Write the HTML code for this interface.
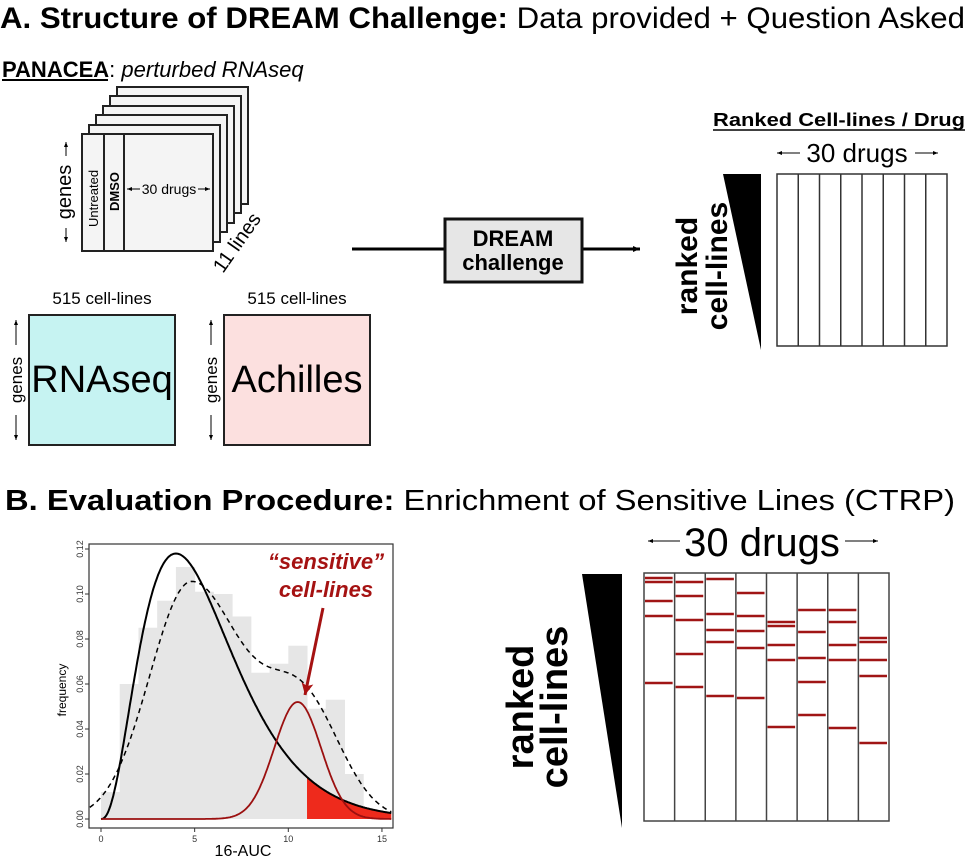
<!DOCTYPE html>
<html><head><meta charset="utf-8"><style>
html,body{margin:0;padding:0;background:#fff}
svg{display:block;font-family:"Liberation Sans",Arial,sans-serif}
</style></head><body>
<svg id="s" width="970" height="861" viewBox="0 0 970 861" xmlns="http://www.w3.org/2000/svg">
<defs>
<marker id="ah" markerWidth="8" markerHeight="8" refX="7" refY="4" orient="auto" markerUnits="userSpaceOnUse"><path d="M0,1 L7,4 L0,7 z" fill="#000"/></marker>
<marker id="as" markerWidth="6" markerHeight="6" refX="5" refY="3" orient="auto" markerUnits="userSpaceOnUse"><path d="M0,1 L5,3 L0,5 z" fill="#000"/></marker>
<marker id="ar" markerWidth="14" markerHeight="14" refX="12" refY="7" orient="auto" markerUnits="userSpaceOnUse"><path d="M0,1 L12,7 L0,13 L3,7 z" fill="#a11"/></marker>
</defs>
<text x="0" y="28" font-size="30" font-weight="bold" textLength="965" lengthAdjust="spacingAndGlyphs">A.  Structure of DREAM Challenge:<tspan font-weight="normal"> Data provided + Question Asked</tspan></text>
<text x="2" y="77" font-size="22"><tspan font-weight="bold">PANACEA</tspan>: <tspan font-style="italic">perturbed RNAseq</tspan></text>
<line x1="2" y1="80" x2="108" y2="80" stroke="#000" stroke-width="2"/>

<g stroke="#222" stroke-width="2" fill="#f4f4f4">
<rect x="117" y="87" width="131" height="117"/>
<rect x="110" y="96" width="131" height="117"/>
<rect x="103" y="106" width="131" height="117"/>
<rect x="96" y="115" width="131" height="117"/>
<rect x="89" y="125" width="131" height="117"/>
<rect x="82" y="134" width="131" height="117"/>
<line x1="104" y1="134" x2="104" y2="251"/>
<line x1="124" y1="134" x2="124" y2="251"/>
</g>
<text transform="translate(98,227) rotate(-90)" font-size="13">Untreated</text>
<text transform="translate(119,211) rotate(-90)" font-size="13" font-weight="bold">DMSO</text>
<text x="169" y="194" font-size="14" text-anchor="middle">30 drugs</text>
<line x1="140" y1="189" x2="127" y2="189" stroke="#000" marker-end="url(#as)"/>
<line x1="198" y1="189" x2="210" y2="189" stroke="#000" marker-end="url(#as)"/>
<text transform="translate(71,192) rotate(-90)" font-size="20" text-anchor="middle">genes</text>
<line x1="66" y1="156" x2="66" y2="142" stroke="#000" marker-end="url(#as)"/>
<line x1="66" y1="228" x2="66" y2="242" stroke="#000" marker-end="url(#as)"/>
<text transform="translate(223,274) rotate(-55)" font-size="20">11 lines</text>

<text x="102" y="304" font-size="17" text-anchor="middle">515 cell-lines</text>
<text x="297" y="304" font-size="17" text-anchor="middle">515 cell-lines</text>
<rect x="29" y="315" width="146" height="130" fill="#c6f3f2" stroke="#222" stroke-width="2"/>
<rect x="224" y="315" width="146" height="130" fill="#fce0df" stroke="#222" stroke-width="2"/>
<text x="102" y="392" font-size="38" text-anchor="middle">RNAseq</text>
<text x="297" y="392" font-size="38" text-anchor="middle">Achilles</text>
<text transform="translate(22,380) rotate(-90)" font-size="17" text-anchor="middle">genes</text>
<text transform="translate(217,380) rotate(-90)" font-size="17" text-anchor="middle">genes</text>
<g stroke="#000">
<line x1="16" y1="345" x2="16" y2="320" marker-end="url(#as)"/>
<line x1="16" y1="415" x2="16" y2="440" marker-end="url(#as)"/>
<line x1="211" y1="345" x2="211" y2="320" marker-end="url(#as)"/>
<line x1="211" y1="415" x2="211" y2="440" marker-end="url(#as)"/>
</g>

<line x1="352" y1="249" x2="445" y2="249" stroke="#000" stroke-width="3"/>
<line x1="582" y1="249" x2="640" y2="249" stroke="#000" stroke-width="3" marker-end="url(#ah)"/>
<rect x="445" y="219" width="137" height="63" fill="#e6e6e6" stroke="#111" stroke-width="3"/>
<text x="513" y="246" font-size="22" font-weight="bold" text-anchor="middle">DREAM</text>
<text x="513" y="270" font-size="22" font-weight="bold" text-anchor="middle">challenge</text>

<text x="713" y="126" font-size="18" font-weight="bold" textLength="252" lengthAdjust="spacingAndGlyphs">Ranked Cell-lines / Drug</text>
<line x1="713" y1="130" x2="965" y2="130" stroke="#000" stroke-width="1.5"/>
<text x="857" y="162" font-size="26" text-anchor="middle">30 drugs</text>
<line x1="800" y1="153" x2="777" y2="153" stroke="#000" marker-end="url(#as)"/>
<line x1="915" y1="153" x2="938" y2="153" stroke="#000" marker-end="url(#as)"/>
<polygon points="723,174 761,174 761,350" fill="#000"/>
<text transform="translate(697,266) rotate(-90)" font-size="30" font-weight="bold" text-anchor="middle">ranked</text>
<text transform="translate(727,266) rotate(-90)" font-size="30" font-weight="bold" text-anchor="middle">cell-lines</text>
<g id="gridA" stroke="#333" stroke-width="1.5" fill="#fff"></g>

<text x="5" y="510" font-size="29" font-weight="bold" textLength="950" lengthAdjust="spacingAndGlyphs">B.  Evaluation Procedure:<tspan font-weight="normal"> Enrichment of Sensitive Lines (CTRP)</tspan></text>

<g id="hist" fill="#e6e6e6"></g>
<path id="fill" fill="#ee2a1c"/>
<path id="blk" fill="none" stroke="#000" stroke-width="2"/>
<path id="dsh" fill="none" stroke="#000" stroke-width="1.5" stroke-dasharray="5,4"/>
<path id="red" fill="none" stroke="#9b1010" stroke-width="1.8"/>
<rect x="89" y="544" width="304" height="284" fill="none" stroke="#333" stroke-width="1.2"/>
<g id="ticks" stroke="#333" stroke-width="1" font-size="9" fill="#333"></g>
<text transform="translate(66,690) rotate(-90)" font-size="12" text-anchor="middle">frequency</text>
<text x="243" y="856" font-size="16" text-anchor="middle">16-AUC</text>
<text x="326" y="569" font-size="22" font-weight="bold" font-style="italic" fill="#a51212" text-anchor="middle">“sensitive”</text>
<text x="326" y="597" font-size="22" font-weight="bold" font-style="italic" fill="#a51212" text-anchor="middle">cell-lines</text>
<line x1="323" y1="608" x2="305" y2="695" stroke="#a51212" stroke-width="3" marker-end="url(#ar)"/>

<text x="762" y="556" font-size="40" text-anchor="middle">30 drugs</text>
<line x1="680" y1="541" x2="648" y2="541" stroke="#000" marker-end="url(#as)"/>
<line x1="845" y1="541" x2="878" y2="541" stroke="#000" marker-end="url(#as)"/>
<polygon points="582,574 622,574 622,828" fill="#000"/>
<text transform="translate(533,707) rotate(-90)" font-size="38" font-weight="bold" text-anchor="middle">ranked</text>
<text transform="translate(567,707) rotate(-90)" font-size="38" font-weight="bold" text-anchor="middle">cell-lines</text>
<g id="gridB" stroke="#444" stroke-width="1.5" fill="#fff"></g>
<g id="redB" stroke="#a01515" stroke-width="2.5"></g>
</svg>
<script>
var NS="http://www.w3.org/2000/svg";
function el(p,t,a){var e=document.createElementNS(NS,t);for(var k in a)e.setAttribute(k,a[k]);p.appendChild(e);return e;}
var gA=document.getElementById('gridA');
el(gA,'rect',{x:777,y:174,width:170,height:172});
for(var i=1;i<8;i++){var x=777+i*170/8;el(gA,'line',{x1:x,y1:174,x2:x,y2:346});}
var gB=document.getElementById('gridB');
el(gB,'rect',{x:644,y:573,width:245,height:248});
for(var i=1;i<8;i++){var x=644+i*245/8;el(gB,'line',{x1:x,y1:573,x2:x,y2:821});}
var R=[[578,582,601,616,683],[582,596,620,654,687],[579,614,630,642,696],[593,616,631,648,698],[622,626,645,660,727],[610,632,658,682,715],[610,622,645,660,728],[638,642,660,676,743]];
var rB=document.getElementById('redB'),cw=245/8;
R.forEach(function(c,i){c.forEach(function(y){el(rB,'line',{x1:644+i*cw+1,x2:644+(i+1)*cw-2,y1:y,y2:y});});});
function X(v){return 101+v*18.73;} function Y(v){return 819-v*2250;}
var H=[0.012,0.06,0.085,0.097,0.112,0.101,0.1,0.09,0.065,0.069,0.077,0.049,0.053,0.02,0.004];
var h=document.getElementById('hist');
H.forEach(function(v,i){el(h,'rect',{x:X(i),y:Y(v),width:18.73+0.5,height:819-Y(v)});});
var th=1.6,k=3.5,pk=Math.pow(4,k-1)*Math.exp(-4/th);
function blk(x){if(x<=0)return 0;return 0.118*Math.pow(x,k-1)*Math.exp(-x/th)/pk;}
function red(x){return 0.052*Math.exp(-Math.pow(x-10.5,2)/(2*1.25*1.25));}
function dsh(x){var s=x<4.8?2.2:2.8;return 0.105*Math.exp(-Math.pow(x-4.8,2)/(2*s*s))+0.05*Math.exp(-Math.pow(x-10.8,2)/8);}
function path(f,a,b){var d='';for(var x=a;x<=b+1e-9;x+=0.05){d+=(d?'L':'M')+X(x).toFixed(1)+','+Y(f(x)).toFixed(1);}return d;}
document.getElementById('blk').setAttribute('d',path(blk,0,15.5));
document.getElementById('red').setAttribute('d',path(red,0,15.5));
document.getElementById('dsh').setAttribute('d',path(dsh,-0.6,15.5));
document.getElementById('fill').setAttribute('d',path(blk,11,15.5)+'L'+X(15.5)+','+Y(0)+'L'+X(11)+','+Y(0)+'Z');
var t=document.getElementById('ticks');
[0,5,10,15].forEach(function(v){el(t,'line',{x1:X(v),x2:X(v),y1:828,y2:832});var e=el(t,'text',{x:X(v),y:842,'text-anchor':'middle',stroke:'none'});e.textContent=v;});
[0,0.02,0.04,0.06,0.08,0.1,0.12].forEach(function(v){el(t,'line',{x1:85,x2:89,y1:Y(v),y2:Y(v)});var e=el(t,'text',{transform:'translate(83,'+Y(v)+') rotate(-90)','text-anchor':'middle',stroke:'none'});e.textContent=v.toFixed(2);});
</script>
</body></html>
